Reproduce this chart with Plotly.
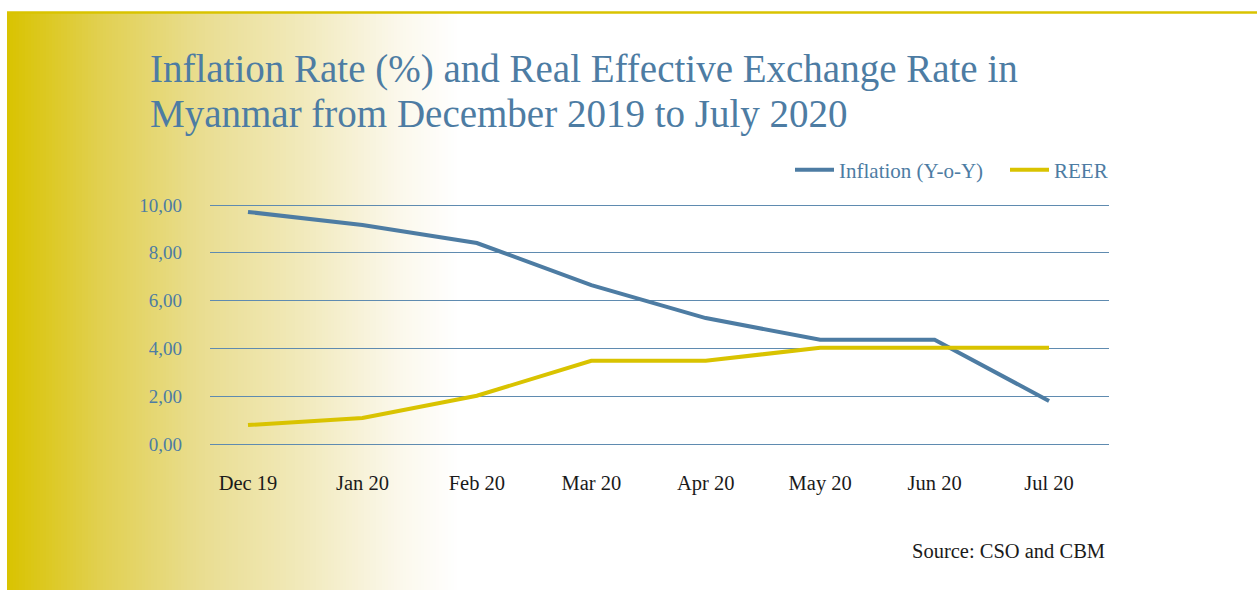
import plotly.graph_objects as go

# Monthly series
months = ["Dec 19", "Jan 20", "Feb 20", "Mar 20", "Apr 20", "May 20", "Jun 20", "Jul 20"]
inflation = [9.71, 9.16, 8.41, 6.65, 5.27, 4.36, 4.36, 1.80]
reer = [0.79, 1.09, 2.02, 3.48, 3.48, 4.03, 4.03, 4.03]
y_ticks = [0, 2, 4, 6, 8, 10]

BLUE = "#4d7ca3"
GOLD = "#d9c300"
SERIF = "Liberation Serif, DejaVu Serif, serif"

W, H = 1257, 590
L, R, T, B = 210, 1109, 203, 446  # plot area in pixels
PAD = 2 / 23.9                     # a little headroom so the 0 and 10 gridlines are drawn
Y_RANGE = [-PAD, 10 + PAD]


def px(x):
    return (x - L) / (R - L)


def py(y):
    return (B - y) / (B - T)


fig = go.Figure()
x_idx = list(range(len(months)))
fig.add_trace(go.Scatter(x=x_idx, y=inflation, mode="lines", name="Inflation (Y-o-Y)",
                         line=dict(color=BLUE, width=4)))
fig.add_trace(go.Scatter(x=x_idx, y=reer, mode="lines", name="REER",
                         line=dict(color=GOLD, width=4)))

# Gold-to-white background panel (colour stops across the left part of the page)
stops = [(7, (217, 195, 0)), (100, (225, 208, 80)), (200, (233, 221, 144)),
         (300, (241, 233, 186)), (400, (251, 248, 236)), (460, (255, 255, 255))]


def grad(x):
    for (xa, ca), (xb, cb) in zip(stops, stops[1:]):
        if xa <= x <= xb:
            t = (x - xa) / (xb - xa)
            return tuple(round(ca[i] + (cb[i] - ca[i]) * t) for i in range(3))
    return (255, 255, 255)


shapes = []
step = 3
x = 7
while x < 460:
    c = grad(x + step / 2)
    shapes.append(dict(type="rect", xref="paper", yref="paper", layer="below",
                       x0=px(x), x1=px(x + step + 0.6), y0=py(H + 2), y1=py(12),
                       fillcolor="rgb(%d,%d,%d)" % c, line=dict(width=0)))
    x += step
# top rule
shapes.append(dict(type="line", xref="paper", yref="paper", layer="below",
                   x0=px(7), x1=px(W + 2), y0=py(12.5), y1=py(12.5),
                   line=dict(color=GOLD, width=2.5)))

fig.update_layout(
    width=W, height=H,
    margin=dict(l=L, r=W - R, t=T, b=H - B),
    paper_bgcolor="white", plot_bgcolor="rgba(0,0,0,0)",
    separators=",.",
    shapes=shapes,
    showlegend=True,
    legend=dict(orientation="h", x=px(790), xanchor="left", y=py(170), yanchor="middle",
                font=dict(family=SERIF, size=21, color=BLUE), bgcolor="rgba(0,0,0,0)",
                itemwidth=39, traceorder="normal",
                entrywidth=161, entrywidthmode="pixels"),
    xaxis=dict(range=[-0.332, 7.524], tickmode="array", tickvals=x_idx, ticktext=months,
               showgrid=False, zeroline=False, showline=False, ticks="",
               tickfont=dict(family=SERIF, size=20.5, color="#1a1a1a"), ticklabelstandoff=22),
    yaxis=dict(range=Y_RANGE, tickvals=y_ticks, tickformat=".2f",
               showgrid=True, gridcolor="#5f8bb0", gridwidth=1, zeroline=False,
               showline=False, ticks="",
               tickfont=dict(family=SERIF, size=19, color=BLUE), ticklabelstandoff=27),
    annotations=[
        dict(text="Inflation Rate (%) and Real Effective Exchange Rate in",
             xref="paper", yref="paper", x=px(148), y=py(93), xanchor="left", yanchor="bottom",
             align="left", showarrow=False,
             font=dict(family=SERIF, size=39, color=BLUE)),
        dict(text="Myanmar from December 2019 to July 2020",
             xref="paper", yref="paper", x=px(148), y=py(138), xanchor="left", yanchor="bottom",
             align="left", showarrow=False,
             font=dict(family=SERIF, size=39, color=BLUE)),
        dict(text="Source: CSO and CBM", xref="paper", yref="paper", x=px(1107), y=py(551),
             xanchor="right", yanchor="middle", showarrow=False,
             font=dict(family=SERIF, size=20.5, color="#1a1a1a")),
    ],
)

fig.write_html("out.html")
